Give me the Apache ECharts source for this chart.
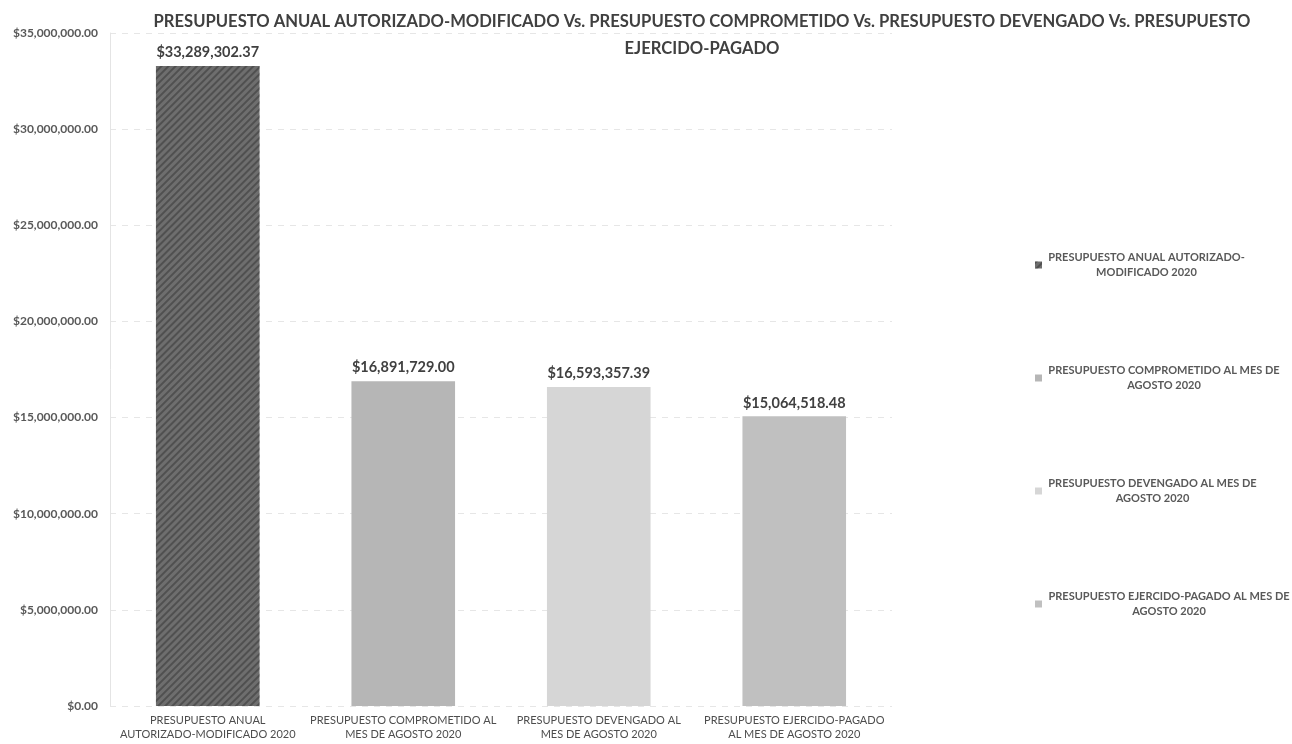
<!DOCTYPE html>
<html><head><meta charset="utf-8">
<script src="https://cdn.jsdelivr.net/npm/echarts@6/dist/echarts.min.js"></script>
<style>html,body{margin:0;padding:0;background:#fff}#c{width:1292px;height:744px}</style>
</head><body><div id="c"></div>
<script>
const categories = [
  "PRESUPUESTO ANUAL\nAUTORIZADO-MODIFICADO 2020",
  "PRESUPUESTO COMPROMETIDO AL\nMES DE AGOSTO 2020",
  "PRESUPUESTO DEVENGADO AL\nMES DE AGOSTO 2020",
  "PRESUPUESTO EJERCIDO-PAGADO\nAL MES DE AGOSTO 2020"
];
const seriesNames = [
  "PRESUPUESTO ANUAL AUTORIZADO-\nMODIFICADO 2020",
  "PRESUPUESTO COMPROMETIDO AL MES DE\nAGOSTO 2020",
  "PRESUPUESTO DEVENGADO AL MES DE\nAGOSTO 2020",
  "PRESUPUESTO EJERCIDO-PAGADO AL MES DE\nAGOSTO 2020"
];
const values = [33289302.37, 16891729.00, 16593357.39, 15064518.48];
const colors = ["#6e6e6e", "#b6b6b6", "#d6d6d6", "#c0c0c0"];

function money(v){
  return "$" + Number(v).toLocaleString("en-US",{minimumFractionDigits:2,maximumFractionDigits:2});
}
const FONT = "Lato";
const LEG_FONT = "bold 11px Lato";

// measure legend lines to center them within each item
const cv = document.createElement("canvas").getContext("2d");
cv.font = LEG_FONT;
const legWidths = seriesNames.map(n => Math.ceil(Math.max(...n.split("\n").map(l => cv.measureText(l).width))) + 2);
const legRich = {};
legWidths.forEach((w,i)=>{ legRich["r"+i] = {width: w, align: "center", fontFamily: FONT, fontWeight: "bold", fontSize: 11, color: "#595959", lineHeight: 15}; });

const series = values.map((v,i)=>({
  name: seriesNames[i],
  type: "bar",
  stack: "s",
  barWidth: "53%",
  data: values.map((x,j)=> j===i ? x : null),
  itemStyle: {
    color: colors[i],
    decal: i===0 ? {symbol:"rect", color:"rgba(50,50,50,0.5)", dashArrayX:[1,0], dashArrayY:[2,3], rotation:-Math.PI/4} : undefined
  },
  label: {
    show: true, position: "top", distance: 6,
    formatter: p => money(p.value),
    fontFamily: FONT, fontWeight: "bold", fontSize: 14.5, color: "#404040"
  }
}));

const chart = echarts.init(document.getElementById("c"));
chart.setOption({
  backgroundColor: "#fff",
  animation: false,
  title: {
    text: "PRESUPUESTO ANUAL AUTORIZADO-MODIFICADO Vs. PRESUPUESTO COMPROMETIDO Vs. PRESUPUESTO DEVENGADO Vs. PRESUPUESTO\nEJERCIDO-PAGADO",
    left: 697, top: 3, textAlign: "center",
    textStyle: {fontFamily: FONT, fontWeight: "bold", fontSize: 16.6, color: "#404040", lineHeight: 27, align: "center"}
  },
  legend: {
    orient: "vertical", left: 1030, top: 245, itemGap: 83,
    itemWidth: 7, itemHeight: 7, icon: "rect",
    formatter: name => {
      const i = seriesNames.indexOf(name);
      return name.split("\n").map(l => "{r"+i+"|"+l+"}").join("\n");
    },
    textStyle: {fontFamily: FONT, fontWeight: "bold", fontSize: 11, color: "#595959", lineHeight: 15, rich: legRich},
    data: seriesNames
  },
  grid: {left: 110, right: 400, top: 33, bottom: 38, containLabel: false},
  xAxis: {
    type: "category", data: categories,
    axisLine: {show: false}, axisTick: {show: false},
    axisLabel: {interval: 0, fontFamily: FONT, fontSize: 11, color: "#4d4d4d", lineHeight: 14, margin: 7}
  },
  yAxis: {
    type: "value", min: 0, max: 35000000, interval: 5000000,
    axisLine: {show: true, lineStyle: {color: "#e4e4e4"}},
    axisTick: {show: false},
    splitLine: {lineStyle: {color: "#e6e6e6", type: [6,6]}},
    axisLabel: {formatter: v => money(v), fontFamily: FONT, fontWeight: "bold", fontSize: 12, color: "#595959", margin: 12}
  },
  series: series
});
</script></body></html>
